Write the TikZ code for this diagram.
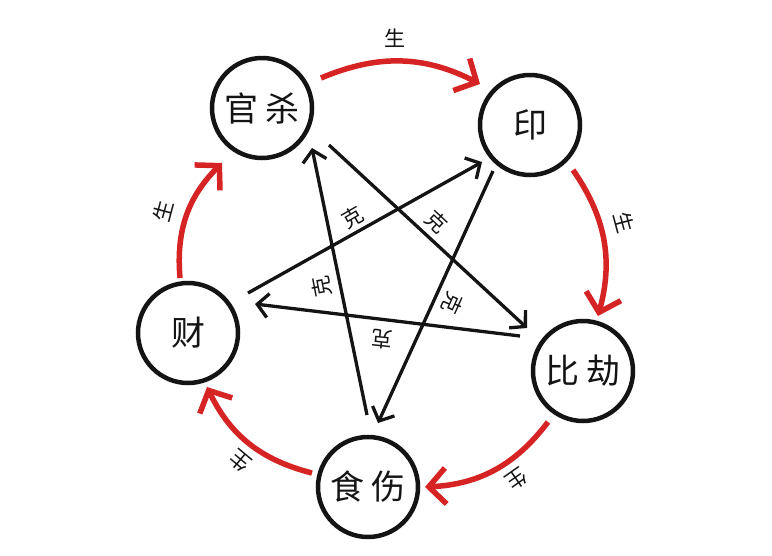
\documentclass[tikz,border=0pt]{standalone}
\usepackage{fontspec}
\newfontfamily\cjk{Noto Sans CJK SC}
\usetikzlibrary{arrows.meta,calc}
\definecolor{redc}{RGB}{214,36,36}
\definecolor{inkc}{RGB}{20,20,20}
\begin{document}
\begin{tikzpicture}[x=1pt,y=-1pt,
  element/.style={circle, draw=inkc, line width=4.5pt, minimum size=100pt, inner sep=0pt,
    font=\cjk\fontsize{34}{34}\selectfont, text=inkc},
  sheng/.style={draw=redc, line width=5.5pt, -{Straight Barb[length=17pt,width=36pt]}, bend left=25},
  ke/.style={draw=inkc, line width=3.3pt, -{Straight Barb[length=11pt,width=24pt]}},
  lbl/.style={font=\cjk\fontsize{21}{21}\selectfont, inner sep=0pt, text=inkc}]
\fill[white] (0,0) rectangle (772,555);
\useasboundingbox (0,0) rectangle (772,555);

% elements
\node[element] (gs)  at (262,108) {官\hspace{7pt}杀};
\node[element] (yin) at (530,125) {印};
\node[element] (bj)  at (583,371) {比\hspace{7pt}劫};
\node[element] (ss)  at (368,487) {食\hspace{7pt}伤};
\node[element] (cai) at (188,333) {财};

% generating cycle (red)
\coordinate (s1a) at ($(gs)+(59,-30)$);  \coordinate (s1b) at ($(yin)+(-50,-41)$);
\coordinate (s2a) at ($(yin)+(43,45)$);  \coordinate (s2b) at ($(bj)+(15,-55)$);
\coordinate (s3a) at ($(bj)+(-35,51)$);  \coordinate (s3b) at ($(ss)+(57,0)$);
\coordinate (s4a) at ($(ss)+(-56,-14)$); \coordinate (s4b) at ($(cai)+(19,54)$);
\coordinate (s5a) at ($(cai)+(-8,-55)$); \coordinate (s5b) at ($(gs)+(-40,55)$);
\draw[sheng] (s1a) to (s1b);
\draw[sheng] (s2a) to (s2b);
\draw[sheng] (s3a) to (s3b);
\draw[sheng] (s4a) to (s4b);
\draw[sheng] (s5a) to (s5b);

% controlling star (black)
\coordinate (k1a) at ($(gs)+(67,37)$);   \coordinate (k1b) at ($(bj)+(-56,-43)$);
\coordinate (k2a) at ($(yin)+(-37,46)$); \coordinate (k2b) at ($(ss)+(10,-64)$);
\coordinate (k3a) at ($(bj)+(-63,-35)$); \coordinate (k3b) at ($(cai)+(67,-29)$);
\coordinate (k4a) at ($(cai)+(60,-40)$); \coordinate (k4b) at ($(yin)+(-48,37)$);
\coordinate (k5a) at ($(ss)+(-1,-72)$);  \coordinate (k5b) at ($(gs)+(50,40)$);
\draw[ke] (k1a) -- (k1b);
\draw[ke] (k2a) -- (k2b);
\draw[ke] (k3a) -- (k3b);
\draw[ke] (k4a) -- (k4b);
\draw[ke] (k5a) -- (k5b);

% labels
\node[lbl] (l1) at (395,38) {生};
\node[lbl, rotate=-75] (l2) at (624,222) {生};
\node[lbl, rotate=-145] (l3) at (517,479) {生};
\node[lbl, rotate=140] (l4) at (240,461) {生};
\node[lbl, rotate=75] (l5) at (163,211) {生};

\node[lbl, rotate=30] (c1) at (353,217) {克};
\node[lbl, rotate=-43] (c2) at (437,222) {克};
\node[lbl, rotate=-114] (c3) at (453,303) {克};
\node[lbl, rotate=174] (c4) at (382,339) {克};
\node[lbl, rotate=101] (c5) at (322,287) {克};
\end{tikzpicture}
\end{document}
